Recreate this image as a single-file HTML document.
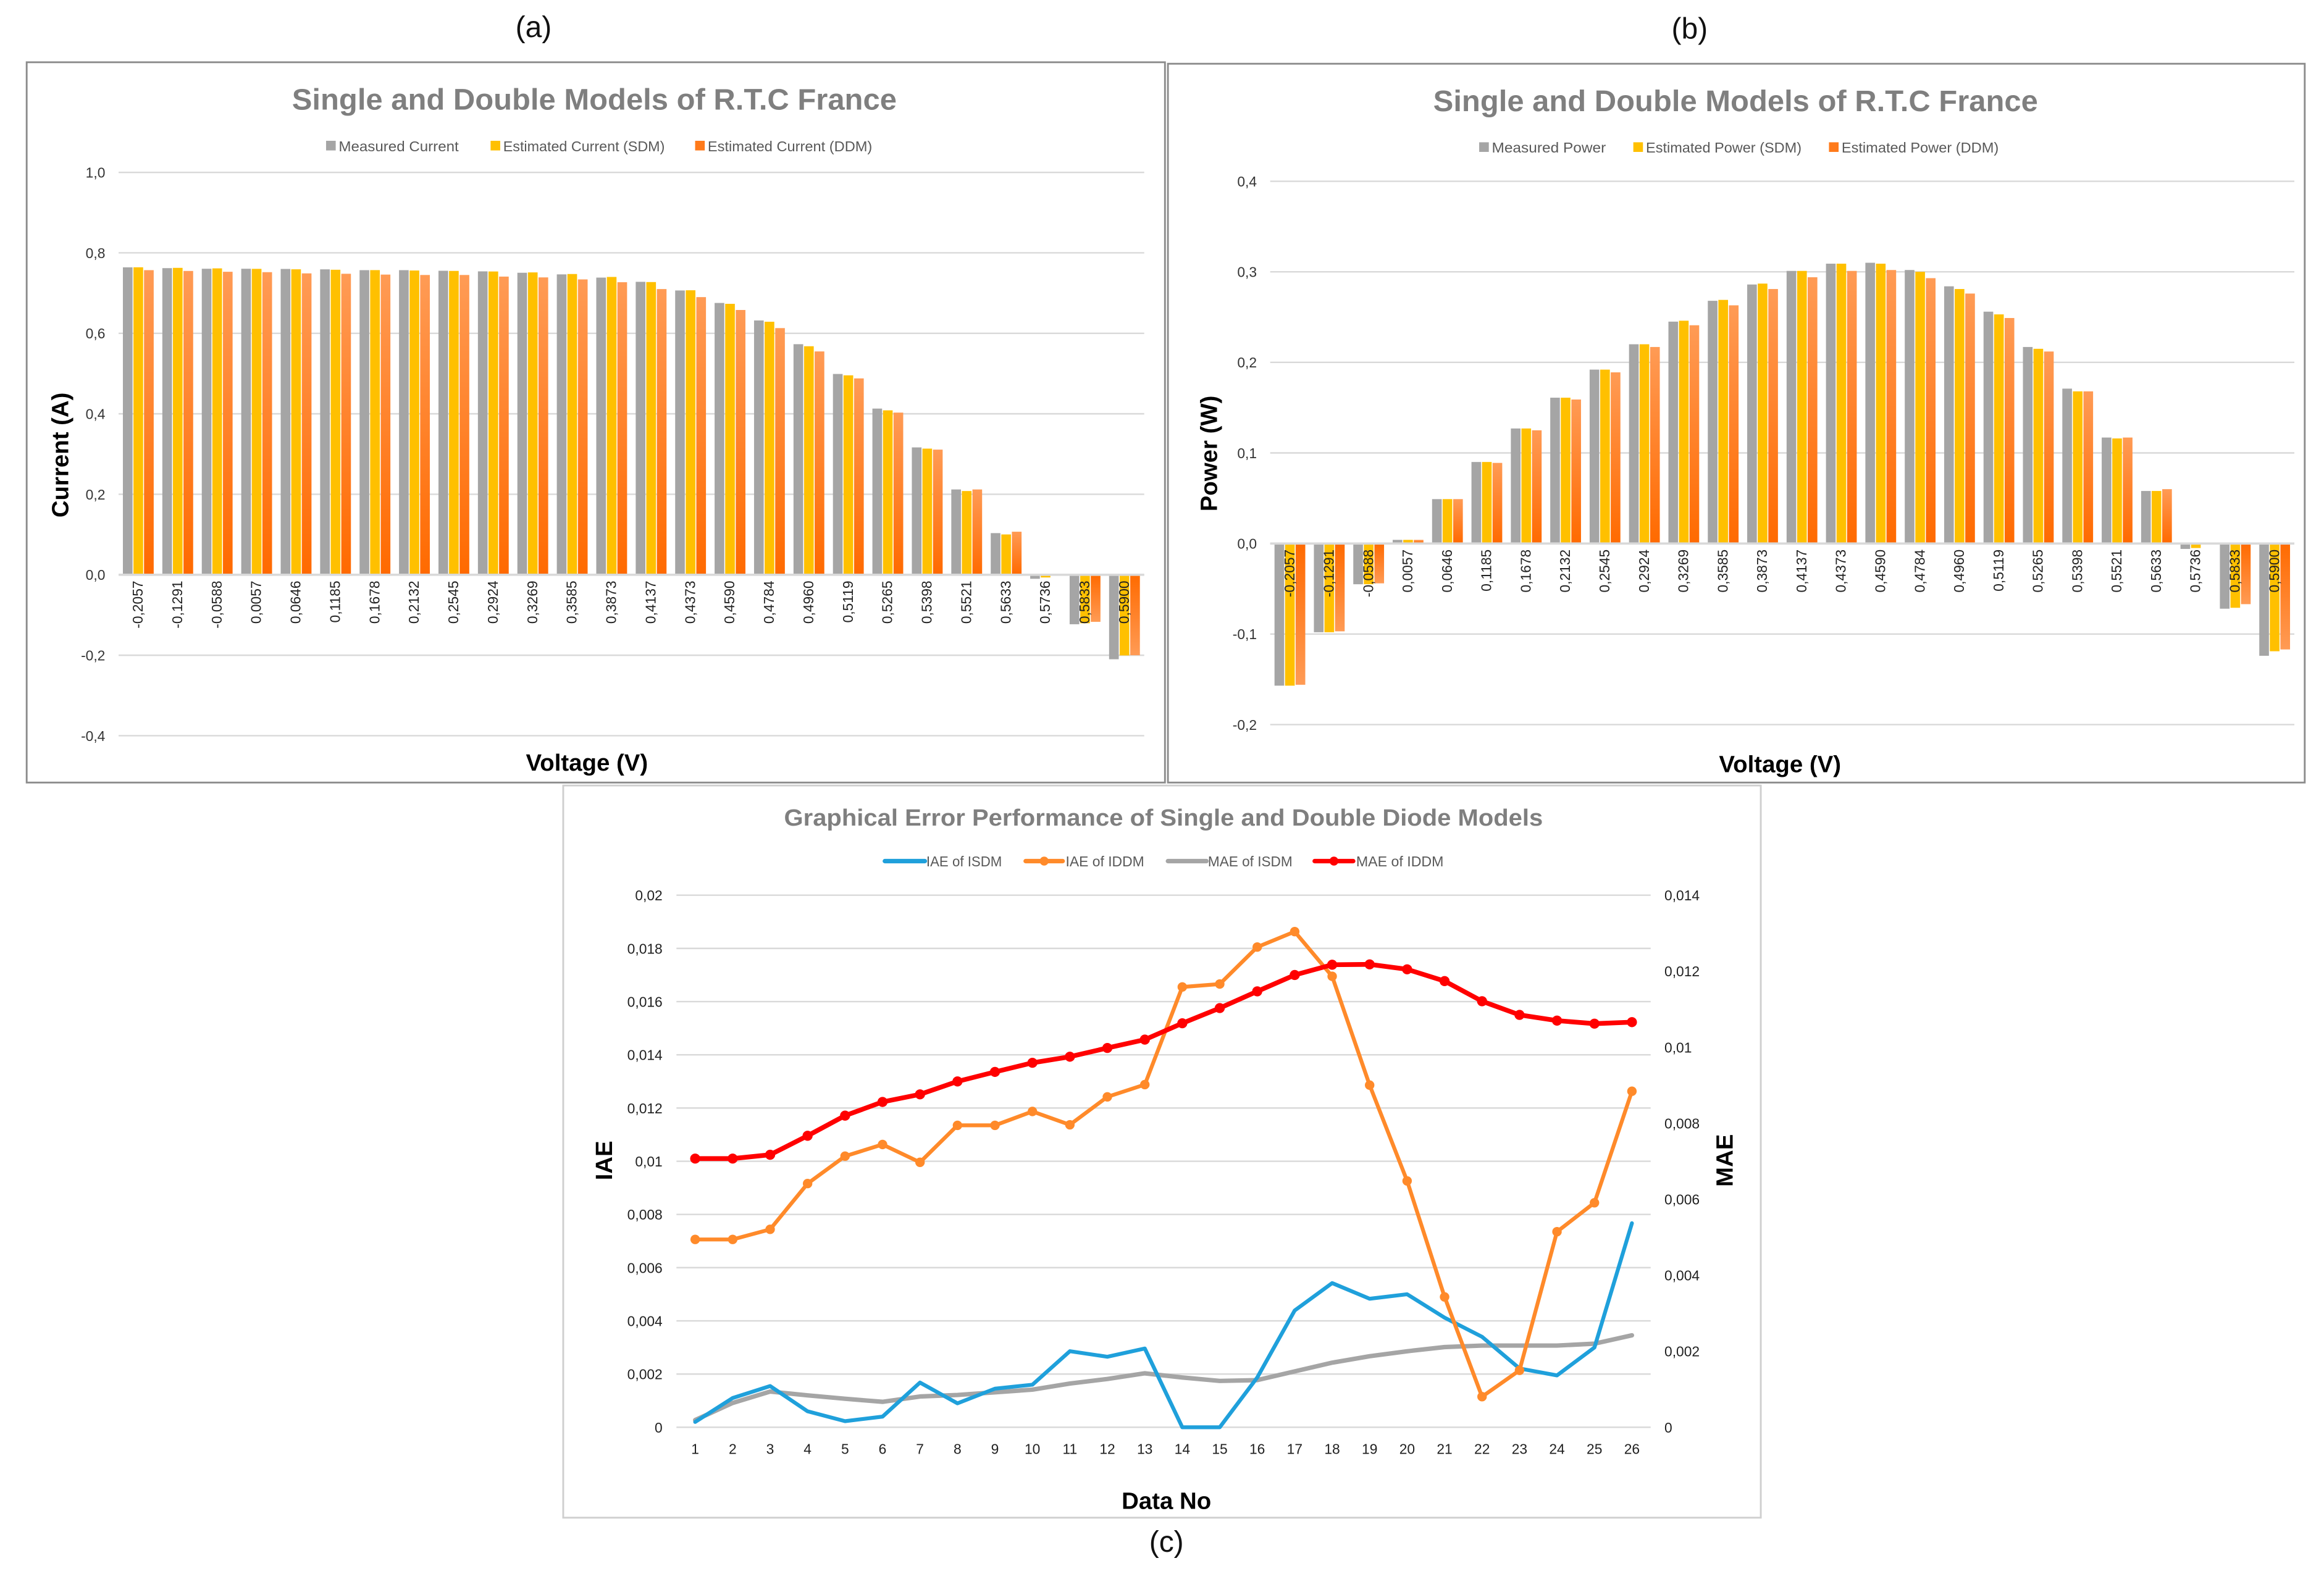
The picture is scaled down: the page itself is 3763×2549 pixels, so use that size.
<!DOCTYPE html>
<html><head><meta charset="utf-8"><style>
html,body{margin:0;padding:0;background:#fff;}
svg{display:block;font-family:"Liberation Sans",sans-serif;}
</style></head><body>
<svg id="root" width="3763" height="2549" viewBox="0 0 1568 1062" preserveAspectRatio="none" xmlns="http://www.w3.org/2000/svg">
<defs>
<linearGradient id="og" x1="0" y1="0" x2="0" y2="1"><stop offset="0" stop-color="#ff9b55"/><stop offset="1" stop-color="#ff6a00"/></linearGradient>
<linearGradient id="ogn" x1="0" y1="1" x2="0" y2="0"><stop offset="0" stop-color="#ff9b55"/><stop offset="1" stop-color="#ff6a00"/></linearGradient>
</defs>
<g id="ga"></g>
<g id="gb"></g>
<g id="gc"></g>
</svg>
<script>
const voltages=["-0,2057","-0,1291","-0,0588","0,0057","0,0646","0,1185","0,1678","0,2132","0,2545","0,2924","0,3269","0,3585","0,3873","0,4137","0,4373","0,4590","0,4784","0,4960","0,5119","0,5265","0,5398","0,5521","0,5633","0,5736","0,5833","0,5900"];
const curMeasured=[0.764,0.762,0.7605,0.7605,0.76,0.759,0.757,0.757,0.7555,0.754,0.7505,0.7465,0.7385,0.728,0.7065,0.6755,0.632,0.573,0.499,0.413,0.3165,0.212,0.1035,-0.01,-0.123,-0.21];
const curSDM=[0.7641,0.7627,0.7614,0.7602,0.7591,0.758,0.7571,0.7561,0.7551,0.7537,0.7514,0.7474,0.7401,0.7274,0.707,0.6733,0.6288,0.5679,0.4956,0.4086,0.3135,0.2081,0.1002,-0.0067,-0.1205,-0.2005];
const curDDM=[0.757,0.755,0.753,0.752,0.749,0.748,0.746,0.745,0.745,0.741,0.739,0.734,0.727,0.71,0.69,0.658,0.613,0.555,0.488,0.403,0.311,0.212,0.107,-0.002,-0.117,-0.2];
const powMeasured=[-0.157,-0.098,-0.045,0.004,0.049,0.09,0.127,0.161,0.192,0.22,0.245,0.268,0.286,0.301,0.309,0.31,0.302,0.284,0.256,0.217,0.171,0.117,0.058,-0.006,-0.072,-0.124];
const powSDM=[-0.157,-0.098,-0.045,0.004,0.049,0.09,0.127,0.161,0.192,0.22,0.246,0.269,0.287,0.301,0.309,0.309,0.3,0.281,0.253,0.215,0.168,0.116,0.058,-0.005,-0.071,-0.119];
const powDDM=[-0.156,-0.097,-0.044,0.004,0.049,0.089,0.125,0.159,0.189,0.217,0.241,0.263,0.281,0.294,0.301,0.302,0.293,0.276,0.249,0.212,0.168,0.117,0.06,0,-0.067,-0.117];
const curTicks=[1.0,0.8,0.6,0.4,0.2,0.0,-0.2,-0.4];
const curTickLabels=["1,0","0,8","0,6","0,4","0,2","0,0","-0,2","-0,4"];
const powTicks=[0.4,0.3,0.2,0.1,0.0,-0.1,-0.2];
const powTickLabels=["0,4","0,3","0,2","0,1","0,0","-0,1","-0,2"];
const dataNo=["1","2","3","4","5","6","7","8","9","10","11","12","13","14","15","16","17","18","19","20","21","22","23","24","25","26"];
const iaeISDM=[0.0002,0.0011,0.00155,0.0006,0.00023,0.0004,0.00168,0.0009,0.00145,0.0016,0.00286,0.00265,0.00296,0,0,0.00187,0.00439,0.00542,0.00483,0.005,0.00412,0.0034,0.00221,0.00195,0.003,0.00767];
const iaeIDDM=[0.00706,0.00706,0.00744,0.00916,0.01019,0.01063,0.00996,0.01135,0.01135,0.01187,0.01137,0.01242,0.01288,0.01655,0.01666,0.01805,0.01863,0.01695,0.01286,0.00926,0.0049,0.00115,0.00214,0.00735,0.00844,0.01263];
const maeISDM=[0.00019,0.00064,0.00094,0.00084,0.00075,0.00067,0.00081,0.00085,0.00092,0.00099,0.00115,0.00127,0.00142,0.00131,0.00122,0.00124,0.00147,0.0017,0.00187,0.002,0.00211,0.00215,0.00215,0.00215,0.0022,0.00242];
const maeIDDM=[0.00707,0.00707,0.00717,0.00767,0.0082,0.00856,0.00876,0.0091,0.00935,0.00959,0.00975,0.00998,0.0102,0.01063,0.01103,0.01147,0.0119,0.01217,0.01218,0.01205,0.01174,0.01121,0.01085,0.0107,0.01062,0.01066];
const iaeTicks=[0,0.002,0.004,0.006,0.008,0.01,0.012,0.014,0.016,0.018,0.02];
const iaeTickLabels=["0","0,002","0,004","0,006","0,008","0,01","0,012","0,014","0,016","0,018","0,02"];
const maeTicks=[0,0.002,0.004,0.006,0.008,0.01,0.012,0.014];
const maeTickLabels=["0","0,002","0,004","0,006","0,008","0,01","0,012","0,014"];

const NS="http://www.w3.org/2000/svg";
function mk(parent,tag,attrs,text){const e=document.createElementNS(NS,tag);for(const k in attrs)e.setAttribute(k,attrs[k]);if(text!==undefined)e.textContent=text;parent.appendChild(e);return e;}

function barChart(g,o){
  const box=mk(g,'rect',{x:o.bx,y:o.by,width:o.bw,height:o.bh,fill:'#fff',stroke:'#8c8c8c','stroke-width':1.2});
  
  
  const pl=mk(g,'text',{x:o.plx,y:o.by-17,'font-size':20,'text-anchor':'middle',fill:'#111'},o.panel);
  
  
  const t=mk(g,'text',{x:o.tx,y:o.by+32,'font-size':20,'font-weight':'bold',fill:'#7f7f7f',textLength:408,lengthAdjust:'spacingAndGlyphs'},'Single and Double Models of R.T.C France');
  
  
  const y=v=>o.y0-(v/o.step)*o.stepPx;
  o.ticks.forEach((v,i)=>{
    const gl=mk(g,'line',{x1:o.px0,x2:o.px1,y1:y(v),y2:y(v),stroke:'#d9d9d9','stroke-width':1});
    
    
    const tl=mk(g,'text',{x:o.lx,y:y(v)+3.5,'font-size':9.5,'text-anchor':'end',fill:'#333'},o.tickLabels[i]);
    
    
  });
  const n=voltages.length,cw=(o.px1-o.px0)/n,w=cw*0.245,s=cw*0.268,off=(cw-(2*s+w))/2;
  const cols=['#a5a5a5','#ffc000','url(#og)'];
  const names=['bar-measured','bar-sdm','bar-ddm'];
  for(let i=0;i<n;i++){
    [o.s1,o.s2,o.s3].forEach((arr,k)=>{
      const v=arr[i],yy=Math.min(y(v),o.y0),h=Math.abs(y(v)-o.y0);
      const r=mk(g,'rect',{x:o.px0+i*cw+off+k*s,y:yy,width:w,height:Math.max(h,0.5),fill:(k==2&&v<0)?'url(#ogn)':cols[k]});
      
      
    });
  }
  const ax=mk(g,'line',{x1:o.px0,x2:o.px1,y1:o.y0,y2:o.y0,stroke:'#d9d9d9','stroke-width':1.5});
  
  
  for(let i=0;i<n;i++){
    const cx=o.px0+i*cw+cw/2+3,cy=o.y0+4;
    const tl=mk(g,'text',{x:cx,y:cy,'font-size':9.5,'text-anchor':'end',fill:'#222',transform:`rotate(-90 ${cx} ${cy})`},voltages[i]);
    
    
  }
  o.legend.forEach((L,k)=>{
    const sq=mk(g,'rect',{x:L[0],y:o.by+53,width:6.5,height:6.5,fill:['#a5a5a5','#ffc000','#ff7a1a'][k]});
    
    
    const lt=mk(g,'text',{x:L[0]+8.5,y:o.by+60,'font-size':9.5,fill:'#595959',textLength:L[2],lengthAdjust:'spacingAndGlyphs'},L[1]);
    
    
  });
  const yt=mk(g,'text',{x:o.ytx,y:o.ytc,'font-size':16,'font-weight':'bold',fill:'#000','text-anchor':'middle',transform:`rotate(-90 ${o.ytx} ${o.ytc})`},o.ytitle);
  
  
  const xt=mk(g,'text',{x:o.xtx,y:o.by+478,'font-size':16,'font-weight':'bold',fill:'#000','text-anchor':'middle'},'Voltage (V)');
  
  
}

barChart(document.getElementById('ga'),{bx:18,by:42,bw:768,bh:486,panel:'(a)',plx:360,tx:197,px0:80,px1:772,y0:387.8,step:0.2,stepPx:54.3,lx:71,
  ticks:curTicks,tickLabels:curTickLabels,s1:curMeasured,s2:curSDM,s3:curDDM,ytx:46,ytc:307,ytitle:'Current (A)',xtx:396,
  legend:[[220,'Measured Current',81],[331,'Estimated Current (SDM)',109],[469,'Estimated Current (DDM)',111]]});
barChart(document.getElementById('gb'),{bx:788,by:43,bw:767,bh:485,panel:'(b)',plx:1140,tx:967,px0:857,px1:1548,y0:366.7,step:0.1,stepPx:61.1,lx:848,
  ticks:powTicks,tickLabels:powTickLabels,s1:powMeasured,s2:powSDM,s3:powDDM,ytx:821,ytc:306,ytitle:'Power (W)',xtx:1201,
  legend:[[998,'Measured Power',77],[1102,'Estimated Power (SDM)',105],[1234,'Estimated Power (DDM)',106]]});

(function(){
  const g=document.getElementById('gc');
  const box=mk(g,'rect',{x:380,y:530,width:808,height:494,fill:'#fff',stroke:'#cfcfcf','stroke-width':1.2});
  
  
  const t=mk(g,'text',{x:529,y:557,'font-size':16,'font-weight':'bold',fill:'#7f7f7f',textLength:512,lengthAdjust:'spacingAndGlyphs'},'Graphical Error Performance of Single and Double Diode Models');
  
  
  const px0=456.4,px1=1113.7,y0=963,ytop=604;
  const yL=v=>y0-v/0.02*(y0-ytop), yR=v=>y0-v/0.014*(y0-ytop);
  const n=dataNo.length,cw=(px1-px0)/n,x=i=>px0+cw*(i+0.5);
  iaeTicks.forEach((v,i)=>{
    const gl=mk(g,'line',{x1:px0,x2:px1,y1:yL(v),y2:yL(v),stroke:'#d9d9d9','stroke-width':1});
    
    
    const tl=mk(g,'text',{x:447,y:yL(v)+3.5,'font-size':9.5,'text-anchor':'end',fill:'#222'},iaeTickLabels[i]);
    
    
  });
  maeTicks.forEach((v,i)=>{
    const tl=mk(g,'text',{x:1123,y:yR(v)+3.5,'font-size':9.5,'text-anchor':'start',fill:'#222'},maeTickLabels[i]);
    
    
  });
  dataNo.forEach((d,i)=>{
    const tl=mk(g,'text',{x:x(i),y:981,'font-size':9.5,'text-anchor':'middle',fill:'#222'},d);
    
    
  });
  function series(arr,sc,col,sw,marker,name){
    const pts=arr.map((v,i)=>x(i).toFixed(2)+','+sc(v).toFixed(2)).join(' ');
    const pl=mk(g,'polyline',{points:pts,fill:'none',stroke:col,'stroke-width':sw,'stroke-linejoin':'round','stroke-linecap':'round'});
    
    
    if(marker){arr.forEach((v,i)=>{
      const c=mk(g,'circle',{cx:x(i),cy:sc(v),r:marker,fill:col});
      
      
    });}
  }
  series(maeISDM,yR,'#a5a5a5',3,0,'mae-isdm-line');
  series(iaeISDM,yL,'#1fa0db',2.6,0,'iae-isdm-line');
  series(iaeIDDM,yL,'#ff8a2a',2.6,3.2,'iae-iddm-line');
  series(maeIDDM,yR,'#ff0000',3.2,3.4,'mae-iddm-line');
  const leg=[[597,624,'#1fa0db',0,'IAE of ISDM',625,51],[692,717,'#ff8a2a',3,'IAE of IDDM',719,53],[788,814,'#a5a5a5',0,'MAE of ISDM',815,57],[887,913,'#ff0000',3,'MAE of IDDM',915,59]];
  leg.forEach(L=>{
    const ln=mk(g,'line',{x1:L[0],x2:L[1],y1:581,y2:581,stroke:L[2],'stroke-width':3,'stroke-linecap':'round'});
    
    
    if(L[3]){const c=mk(g,'circle',{cx:(L[0]+L[1])/2,cy:581,r:L[3],fill:L[2]});
      
      }
    const lt=mk(g,'text',{x:L[5],y:584.5,'font-size':9.5,fill:'#595959',textLength:L[6],lengthAdjust:'spacingAndGlyphs'},L[4]);
    
    
  });
  const a=mk(g,'text',{x:413,y:783,'font-size':16,'font-weight':'bold','text-anchor':'middle',fill:'#000',transform:'rotate(-90 413 783)'},'IAE');
  
  
  const b=mk(g,'text',{x:1169,y:783,'font-size':16,'font-weight':'bold','text-anchor':'middle',fill:'#000',transform:'rotate(-90 1169 783)'},'MAE');
  
  
  const xt=mk(g,'text',{x:787,y:1018,'font-size':16,'font-weight':'bold','text-anchor':'middle',fill:'#000'},'Data No');
  
  
  const pl=mk(g,'text',{x:787,y:1047,'font-size':20,'text-anchor':'middle',fill:'#111'},'(c)');
  
  
})();
</script>
</body></html>
